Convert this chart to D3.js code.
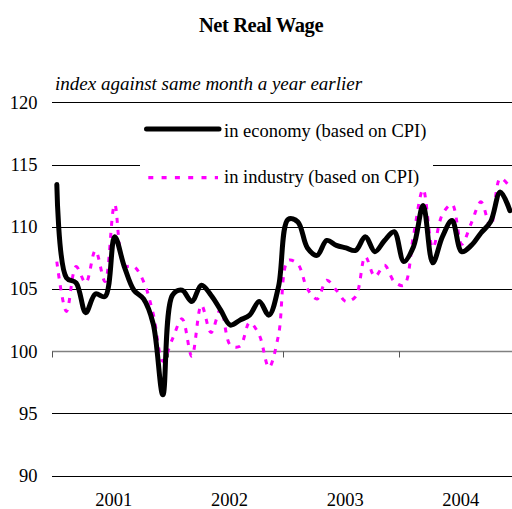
<!DOCTYPE html>
<html>
<head>
<meta charset="utf-8">
<script src="https://cdn.jsdelivr.net/npm/d3@7"></script>
<style>
  body { margin: 0; background: #fff; }
  text { font-family: "Liberation Serif", "Times New Roman", serif; }
</style>
</head>
<body>
<div id="chart"></div>
<script>
// monthly values, Jan 2001 - Dec 2004
var years = ["2001", "2002", "2003", "2004"];
var yTicks = [90, 95, 100, 105, 110, 115, 120];

var economy = [
  113.4, 105.9, 105.5, 103.1, 104.6, 104.4, 109.2, 106.8, 104.9, 104.2, 102.2, 96.5,
  104.5, 104.9, 104.0, 105.3, 104.5, 103.3, 102.1, 102.5, 102.9, 104.0, 102.9, 105.2,
  110.6, 110.4, 108.3, 107.7, 108.9, 108.5, 108.3, 108.1, 109.2, 108.0, 108.9, 109.6,
  107.2, 108.4, 111.7, 107.1, 109.2, 110.5, 108.0, 108.5, 109.5, 110.4, 112.8, 111.3
];

var industry = [
  107.2, 103.2, 106.8, 105.5, 108.1, 105.6, 111.8, 106.9, 106.8, 105.6, 103.0, 99.2,
  101.0, 102.6, 99.6, 103.7, 101.5, 103.4, 100.5, 100.4, 102.3, 101.3, 98.7, 101.3,
  107.3, 107.0, 105.0, 104.2, 105.7, 104.9, 104.0, 104.4, 107.6, 106.0, 106.9, 105.6,
  105.3, 109.3, 113.0, 108.3, 111.0, 111.8, 108.6, 110.3, 112.0, 110.0, 113.9, 113.2
];

var w = 512;
var h = 509;

var svg = d3.select("#chart")
    .append("svg")
    .attr("width", w)
    .attr("height", h);

var x = d3.scaleLinear().domain([0, 48]).range([52, 514.7]);
var y = d3.scaleLinear().domain([90, 120]).range([475.7, 102.3]);

// Title
svg.append("text")
    .attr("x", 261)
    .attr("y", 31.5)
    .attr("text-anchor", "middle")
    .style("font-size", "20.5px")
    .style("font-weight", "bold")
    .style("letter-spacing", "-0.4px")
    .text("Net Real Wage");

svg.append("text")
    .attr("x", 55)
    .attr("y", 90)
    .style("font-size", "19px")
    .style("font-style", "italic")
    .text("index against same month a year earlier");

// gridlines
svg.append("g")
    .selectAll("line")
    .data(yTicks.filter(d => d !== 100))
    .enter()
    .append("line")
    .attr("x1", 52)
    .attr("x2", w)
    .attr("y1", d => Math.round(y(d)) + 0.5)
    .attr("y2", d => Math.round(y(d)) + 0.5)
    .attr("stroke", "#000")
    .attr("stroke-width", 1);

// y labels
svg.append("g")
    .selectAll("text")
    .data(yTicks)
    .enter()
    .append("text")
    .attr("x", 37.5)
    .attr("y", d => y(d))
    .attr("dy", "0.35em")
    .attr("text-anchor", "end")
    .style("font-size", "18.5px")
    .text(d => d);

// category axis crossing at 100
var axisY = Math.round(y(100)) + 0.5;
svg.append("line")
    .attr("x1", 52)
    .attr("x2", w)
    .attr("y1", axisY)
    .attr("y2", axisY)
    .attr("stroke", "#808080")
    .attr("stroke-width", 1.5);

svg.append("g")
    .selectAll("line")
    .data(d3.range(0, 49, 12))
    .enter()
    .append("line")
    .attr("x1", d => Math.round(x(d)) + 0.5)
    .attr("x2", d => Math.round(x(d)) + 0.5)
    .attr("y1", axisY)
    .attr("y2", axisY + 6)
    .attr("stroke", "#555")
    .attr("stroke-width", 1);

svg.append("g")
    .selectAll("text")
    .data(years)
    .enter()
    .append("text")
    .attr("x", (d, i) => x(i * 12 + 6) + 4)
    .attr("y", 506)
    .attr("text-anchor", "middle")
    .style("font-size", "18.5px")
    .text(d => d);

var line = d3.line()
    .x((d, i) => x(i + 0.5))
    .y(d => y(d))
    .curve(d3.curveCatmullRom.alpha(0.5));

// Legend box (drawn over gridline)
svg.append("rect")
    .attr("x", 140)
    .attr("y", 108)
    .attr("width", 293)
    .attr("height", 79)
    .attr("fill", "#fff");

svg.append("path")
    .datum(industry)
    .attr("fill", "none")
    .attr("stroke", "#ff00ff")
    .attr("stroke-width", 3)
    .attr("stroke-dasharray", "5,7")
    .attr("d", line);

svg.append("path")
    .datum(economy)
    .attr("fill", "none")
    .attr("stroke", "#000")
    .attr("stroke-width", 5)
    .attr("stroke-linejoin", "round")
    .attr("stroke-linecap", "round")
    .attr("d", line);

// Legend
var legend = svg.append("g");
legend.append("line")
    .attr("x1", 146.5).attr("x2", 219)
    .attr("y1", 129).attr("y2", 129)
    .attr("stroke", "#000")
    .attr("stroke-width", 5)
    .attr("stroke-linecap", "round");
legend.append("text")
    .attr("x", 224)
    .attr("y", 136.5)
    .style("font-size", "18.5px")
    .text("in economy (based on CPI)");

legend.append("line")
    .attr("x1", 148.3).attr("x2", 218)
    .attr("y1", 177.7).attr("y2", 177.7)
    .attr("stroke", "#ff00ff")
    .attr("stroke-width", 3.3)
    .attr("stroke-dasharray", "5,8.3");
legend.append("text")
    .attr("x", 224)
    .attr("y", 183.3)
    .style("font-size", "18.5px")
    .text("in industry (based on CPI)");
</script>
</body>
</html>
